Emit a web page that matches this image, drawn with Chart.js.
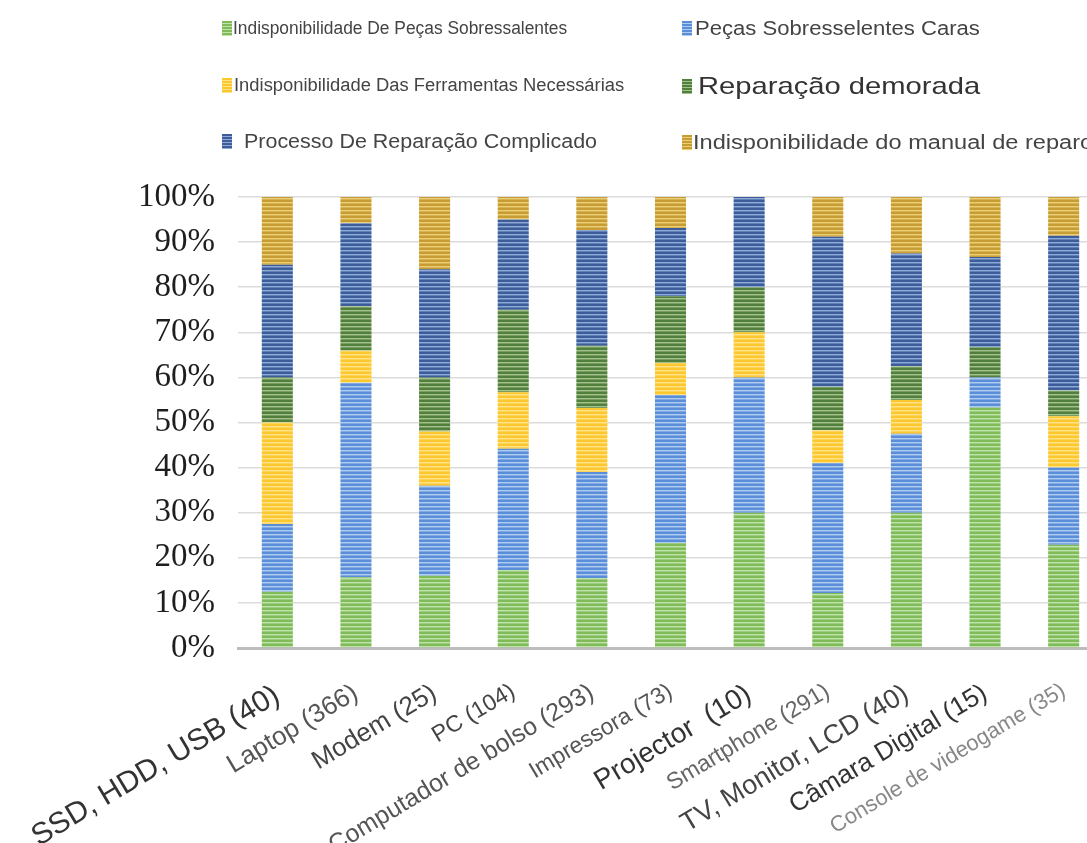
<!DOCTYPE html>
<html>
<head>
<meta charset="utf-8">
<script src="https://cdn.jsdelivr.net/npm/chart.js@4.4.0/dist/chart.umd.min.js"></script>
<style>
html,body{margin:0;padding:0;background:#fff;overflow:hidden;width:1087px;height:843px;}
#wrap{position:relative;width:1087px;height:843px;overflow:hidden;background:#fff;}
canvas{position:absolute;left:0;top:0;}
.lg{position:absolute;white-space:nowrap;font-family:"Liberation Sans",Arial,sans-serif;}
.sw{position:absolute;width:10px;height:15px;}
.tx{position:absolute;display:inline-block;transform-origin:0 50%;white-space:nowrap;}
</style>
</head>
<body>
<div id="wrap">
  <canvas id="c" width="1103" height="843"></canvas>
  <div id="legend"></div>
</div>
<script>
// ---------- DATA ----------
const categories = [
  "SSD, HDD, USB (40)", "Laptop (366)", "Modem (25)", "PC (104)",
  "Computador de bolso (293)", "Impressora (73)", "Projector  (10)",
  "Smartphone (291)", "TV, Monitor, LCD (40)", "Câmara Digital (15)",
  "Console de videogame (35)"
];
const seriesNames = [
  "Indisponibilidade De Peças Sobressalentes",
  "Peças Sobresselentes Caras",
  "Indisponibilidade Das Ferramentas Necessárias",
  "Reparação demorada",
  "Processo De Reparação Complicado",
  "Indisponibilidade do manual de reparo"
];
const unavailableParts   = [12.5, 15.7, 16, 17.3, 15.5, 23.3, 30, 12.2, 30, 53.3, 22.9];
const expensiveParts     = [15, 43.1, 20, 26.9, 23.5, 32.8, 30, 28.8, 17.5, 6.7, 17.1];
const unavailableTools   = [22.5, 7.1, 12, 12.5, 14.2, 7.1, 10, 7.3, 7.5, 0, 11.4];
const slowRepair         = [10, 9.9, 12, 18.3, 13.8, 14.8, 10, 9.6, 7.5, 6.7, 5.7];
const complicatedProcess = [25, 18.4, 24, 20, 25.7, 15.1, 20, 33.3, 25, 20, 34.3];
const noManual           = [15, 5.8, 16, 5, 7.3, 6.9, 0, 8.8, 12.5, 13.3, 8.6];
const seriesValues = [unavailableParts, expensiveParts, unavailableTools, slowRepair, complicatedProcess, noManual];
const yTickValues = [0, 10, 20, 30, 40, 50, 60, 70, 80, 90, 100];

// ---------- STYLE ----------
const baseColors  = ["#7fbb58", "#5b8ed8", "#fdc72e", "#52803c", "#3c5d9a", "#c79c33"];
const lightColors = ["#c2e2ab", "#b0cbf0", "#fee38a", "#a3c18d", "#8eaad6", "#ebcf78"];
const xLabelSizes  = [30, 26, 26, 23, 25, 23, 28, 23, 27, 26, 22];
const xLabelColors = ["#333", "#555", "#444", "#444", "#555", "#555", "#333", "#666", "#444", "#333", "#888"];
const legendLayout = [
  {sx:222, tx:233, cy:28,  size:18, w:334, color:"#444"},
  {sx:682, tx:695, cy:28,  size:20, w:285, color:"#444"},
  {sx:222, tx:234, cy:85,  size:18, w:390, color:"#444"},
  {sx:682, tx:698, cy:86,  size:24, w:282, color:"#333"},
  {sx:222, tx:244, cy:141, size:20, w:353, color:"#444"},
  {sx:682, tx:693, cy:142, size:20, w:400, color:"#444"}
];

function stripe(base, light) {
  const p = document.createElement("canvas");
  p.width = 4; p.height = 4;
  const g = p.getContext("2d");
  g.fillStyle = base; g.fillRect(0, 0, 4, 4);
  g.fillStyle = light; g.fillRect(0, 2, 4, 1);
  g.globalAlpha = 0.45; g.fillRect(0, 3, 4, 1);
  return g.createPattern(p, "repeat");
}

// ---------- LEGEND (HTML) ----------
const lg = document.getElementById("legend");
const spans = [];
seriesNames.forEach((name, i) => {
  const L = legendLayout[i];
  const sw = document.createElement("div");
  sw.className = "sw";
  sw.style.left = L.sx + "px";
  sw.style.top = (L.cy - 7.5) + "px";
  sw.style.background = "repeating-linear-gradient(" + baseColors[i] + " 0 2px," + lightColors[i] + " 2px 3px)";
  lg.appendChild(sw);
  const t = document.createElement("span");
  t.className = "tx lg";
  t.textContent = name;
  t.style.fontSize = L.size + "px";
  t.style.lineHeight = (L.size + 4) + "px";
  t.style.color = L.color;
  t.style.left = L.tx + "px";
  t.style.top = (L.cy - (L.size + 4) / 2) + "px";
  lg.appendChild(t);
  spans.push(t);
});
function fitLegend() {
  spans.forEach((t, i) => {
    const w = t.offsetWidth;
    if (w > 0) t.style.transform = "scaleX(" + (legendLayout[i].w / w) + ")";
  });
}
fitLegend();
if (document.fonts && document.fonts.ready) document.fonts.ready.then(fitLegend);

// ---------- CHART ----------
const datasets = seriesNames.map((name, i) => ({
  label: name,
  data: seriesValues[i],
  backgroundColor: stripe(baseColors[i], lightColors[i]),
  borderWidth: 0,
  barPercentage: 0.395,
  categoryPercentage: 1
}));

new Chart(document.getElementById("c"), {
  type: "bar",
  data: { labels: categories, datasets },
  options: {
    responsive: false,
    animation: false,
    layout: { padding: { top: 197, left: 0, right: 0, bottom: 0 } },
    plugins: { legend: { display: false }, tooltip: { enabled: false }, title: { display: false } },
    scales: {
      x: {
        stacked: true,
        grid: { display: false, drawTicks: false },
        border: { display: true, color: "#bdbdbd", width: 3 },
        ticks: {
          autoSkip: false, minRotation: 31, maxRotation: 31, padding: 30,
          font: (c) => ({ family: "Liberation Sans", size: xLabelSizes[c.index] || 22 }),
          color: (c) => xLabelColors[c.index] || "#444"
        },
        afterFit: (s) => { s.height = 195; s.paddingLeft = 0; s.paddingRight = 0; }
      },
      y: {
        stacked: true, min: 0, max: 100,
        afterBuildTicks: (s) => { s.ticks = yTickValues.map(v => ({ value: v })); },
        ticks: {
          callback: (v) => v + "%",
          font: { family: "Liberation Serif", size: 33 },
          color: "#1e1e1e",
          padding: 23
        },
        grid: { color: (c) => c.tick && c.tick.value === 0 ? "#bdbdbd" : "#dcdcdc", lineWidth: 1.5, drawTicks: false },
        border: { display: false },
        afterFit: (s) => { s.width = 238; }
      }
    }
  }
});
</script>
</body>
</html>
